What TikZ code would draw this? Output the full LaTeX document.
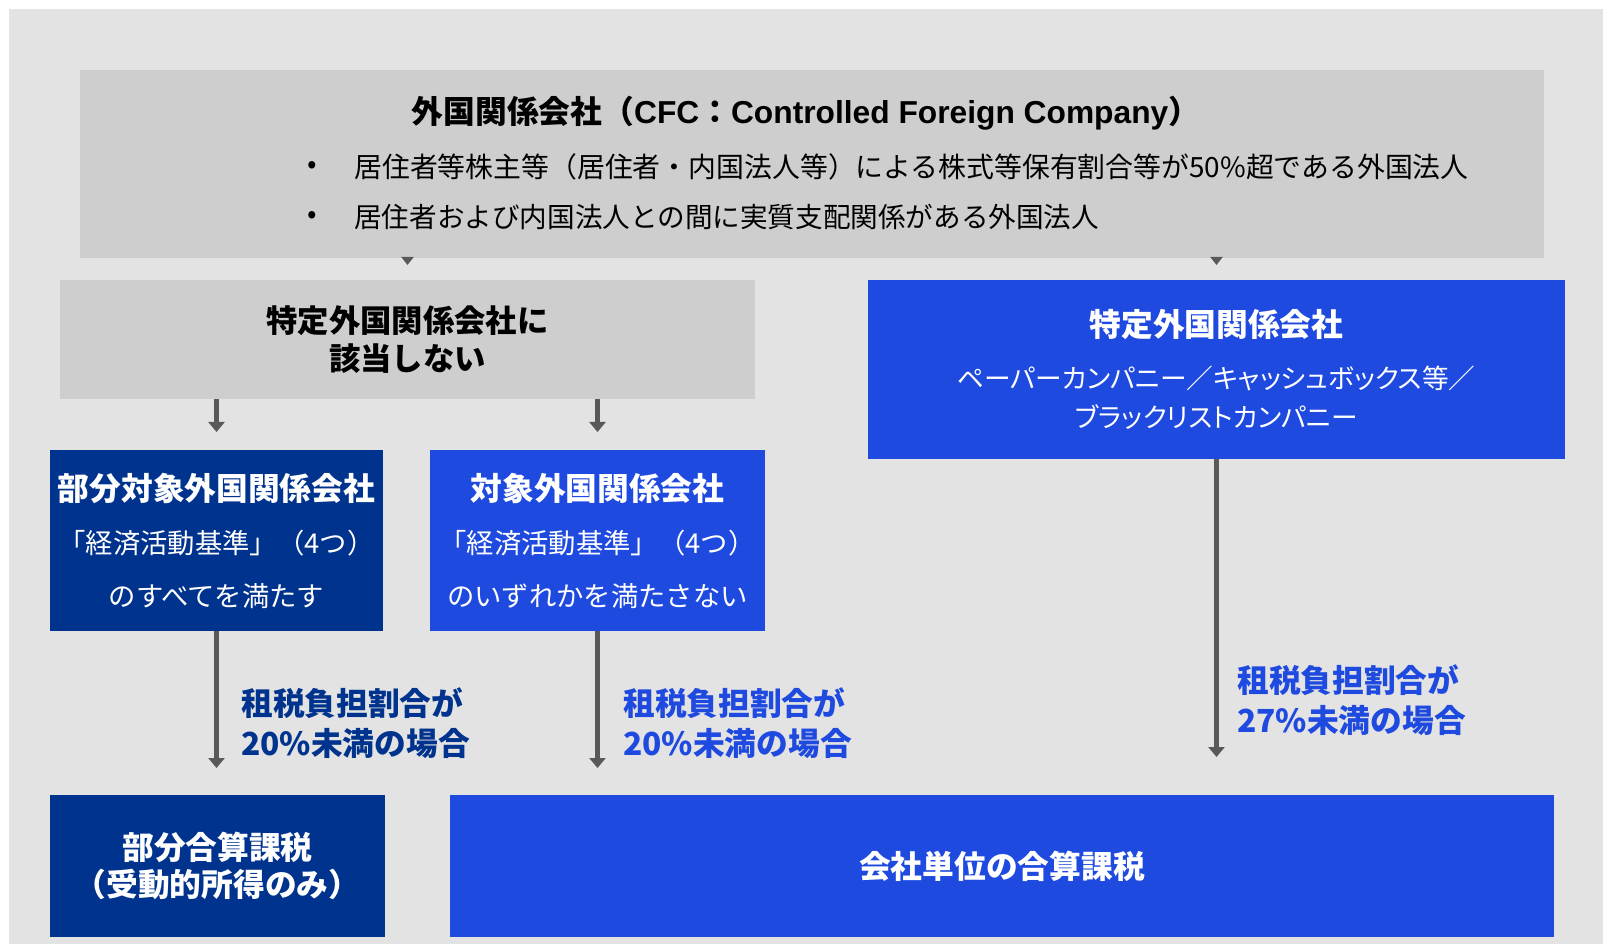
\documentclass[tikz,border=0pt]{standalone}
\usepackage{fontspec}
\setmainfont{Noto Sans CJK JP}
\newfontfamily\lat{Liberation Sans}
\newfontfamily\pfont{Noto Sans CJK JP}[RawFeature=+palt]
\usetikzlibrary{arrows.meta,calc}
\definecolor{bg}{HTML}{E3E3E3}
\definecolor{boxgray}{HTML}{CECECE}
\definecolor{navy}{HTML}{00338D}
\definecolor{bblue}{HTML}{1F4AE0}
\definecolor{arrgray}{HTML}{595959}
\begin{document}
\begin{tikzpicture}[x=0.75pt,y=-0.75pt,
  box/.style={rectangle, inner sep=0pt, outer sep=0pt, align=center},
  graybox/.style={box, fill=boxgray, text=black},
  navybox/.style={box, fill=navy, text=white},
  bluebox/.style={box, fill=bblue, text=white},
  arr/.style={draw=arrgray, line width=3.4pt, -{Triangle[width=12pt,length=7.5pt]}},
  tinyarr/.style={draw=arrgray, line width=2pt, -{Triangle[width=9pt,length=6pt]}},
  lbl/.style={anchor=west, align=left, inner sep=0pt, font=\bfseries\fontsize{23.8}{30}\selectfont}
]
\useasboundingbox (0,0) rectangle (1603,944);
\fill[white] (0,0) rectangle (1603,944);
\fill[bg] (9,9) rectangle (1603,944);

% top box
\node[graybox, minimum width=1098pt, minimum height=141pt] (cfc) at (812,164) {};
\node[inner sep=0pt, font=\bfseries\fontsize{23.8}{28}\selectfont] (cfct) at (806,113)
  {外国関係会社（{\lat CFC}：{\lat Controlled Foreign Company}）};
\node[inner sep=0pt, font=\fontsize{21}{28}\selectfont] (bu1) at (312,167) {•};
\node[inner sep=0pt, font=\fontsize{21}{28}\selectfont] (bu2) at (312,217) {•};
\node[anchor=west, inner sep=0pt, font=\fontsize{20.9}{28}\selectfont] (l1) at (354,167)
  {居住者等株主等（居住者・内国法人等）による株式等保有割合等が50\%超である外国法人};
\node[anchor=west, inner sep=0pt, font=\fontsize{20.7}{28}\selectfont] (l2) at (354,217)
  {居住者および内国法人との間に実質支配関係がある外国法人};

% second row
\node[graybox, minimum width=521.25pt, minimum height=89.25pt,
  font=\bfseries\fontsize{23.5}{28.5}\selectfont] (nsp) at (407.5,339.5)
  {特定外国関係会社に\\該当しない};
\node[bluebox, minimum width=522.75pt, minimum height=134.25pt,
  font=\pfont\fontsize{20}{29.25}\selectfont] (sp) at (1216.5,369.5)
  {{\normalfont\bfseries\fontsize{23.8}{29.25}\selectfont 特定外国関係会社}\\[10pt]
   ペーパーカンパニー／キャッシュボックス等／\\ブラックリストカンパニー};

% third row
\node[navybox, minimum width=249.75pt, minimum height=135.75pt,
  font=\fontsize{20.5}{39.75}\selectfont] (pcfc) at (216.5,540.5)
  {{\bfseries\fontsize{23.8}{39.75}\selectfont 部分対象外国関係会社}\\
   「経済活動基準」（4つ）\\のすべてを満たす};
\node[bluebox, minimum width=251.25pt, minimum height=135.75pt,
  font=\fontsize{20.5}{39.75}\selectfont] (tcfc) at (597.5,540.5)
  {{\bfseries\fontsize{23.8}{39.75}\selectfont 対象外国関係会社}\\
   「経済活動基準」（4つ）\\のいずれかを満たさない};

% bottom row
\node[navybox, minimum width=251.25pt, minimum height=106.5pt,
  font=\bfseries\fontsize{23.8}{28}\selectfont] (part) at (217.5,866)
  {部分合算課税\\（受動的所得のみ）};
\node[bluebox, minimum width=828pt, minimum height=106.5pt,
  font=\bfseries\fontsize{23.8}{28}\selectfont] (whole) at (1002,866)
  {会社単位の合算課税};

% connectors
\draw[tinyarr, shorten >=11.25pt] (nsp.north |- cfc.south) -- (nsp.north);
\draw[tinyarr, shorten >=11.25pt] (sp.north |- cfc.south) -- (sp.north);
\draw[arr, shorten >=13.5pt] (pcfc.north |- nsp.south) -- (pcfc.north);
\draw[arr, shorten >=13.5pt] (tcfc.north |- nsp.south) -- (tcfc.north);
\draw[arr, shorten >=20.25pt] (pcfc.south) -- (pcfc.south |- part.north);
\draw[arr, shorten >=20.25pt] (tcfc.south) -- (tcfc.south |- whole.north);
\draw[arr, shorten >=28.5pt] (sp.south) -- (sp.south |- whole.north);

% labels
\node[lbl, text=navy] (lab1) at (241,723) {租税負担割合が\\20\%未満の場合};
\node[lbl, text=bblue] (lab2) at (623,723) {租税負担割合が\\20\%未満の場合};
\node[lbl, text=bblue] (lab3) at (1237,700) {租税負担割合が\\27\%未満の場合};
\end{tikzpicture}
\end{document}
